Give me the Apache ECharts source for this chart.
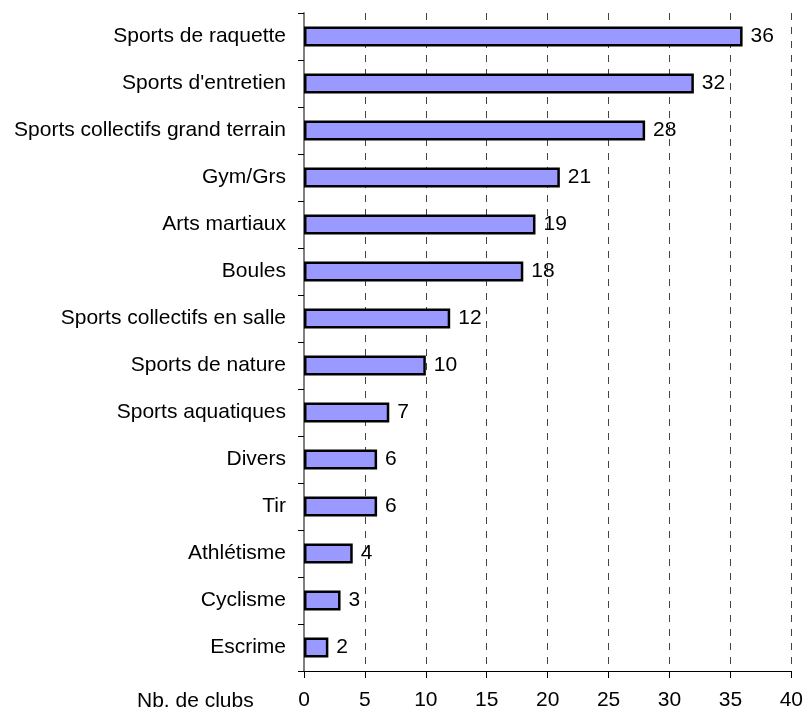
<!DOCTYPE html>
<html>
<head>
<meta charset="utf-8">
<script src="https://cdn.jsdelivr.net/npm/echarts@6/dist/echarts.min.js"></script>
<style>html,body{margin:0;padding:0;background:#fff}#c{width:806px;height:711px}</style>
</head>
<body>
<div id="c"></div>
<script>
var categories = ["Sports de raquette","Sports d'entretien","Sports collectifs grand terrain","Gym/Grs","Arts martiaux","Boules","Sports collectifs en salle","Sports de nature","Sports aquatiques","Divers","Tir","Athlétisme","Cyclisme","Escrime"];
var values = [36,32,28,21,19,18,12,10,7,6,6,4,3,2];
var axisName = "Nb. de clubs";

var chart = echarts.init(document.getElementById('c'), null, {renderer:'canvas'});
var font = 'Liberation Sans, Arial, sans-serif';
chart.setOption({
  animation:false,
  backgroundColor:'#fff',
  grid:{left:304,right:13,top:13,bottom:39,containLabel:false},
  xAxis:{
    type:'value',min:0,max:40,interval:5,
    axisLine:{show:true,lineStyle:{color:'#000',width:1}},
    axisTick:{show:true,inside:false,length:7,lineStyle:{color:'#000'}},
    axisLabel:{color:'#000',fontSize:21,fontFamily:font,margin:19},
    splitLine:{show:true,lineStyle:{color:'#444',type:[7,7],width:1}}
  },
  yAxis:{
    type:'category',data:categories,inverse:true,
    axisLine:{show:true,lineStyle:{color:'#808080',width:2}},
    axisTick:{show:true,inside:false,length:6,alignWithLabel:false,lineStyle:{color:'#000'}},
    axisLabel:{color:'#000',fontSize:21,fontFamily:font,margin:18},
    splitLine:{show:false}
  },
  graphic:[{type:'text',left:137,top:691,style:{text:axisName,fill:'#000',font:'21px '+font}}],
  series:[{
    type:'bar',data:values,barWidth:20,
    itemStyle:{color:'#9999ff',borderColor:'#000',borderWidth:2.5},
    label:{show:true,position:'right',distance:8,color:'#000',fontSize:21,fontFamily:font}
  }]
});
</script>
</body>
</html>
